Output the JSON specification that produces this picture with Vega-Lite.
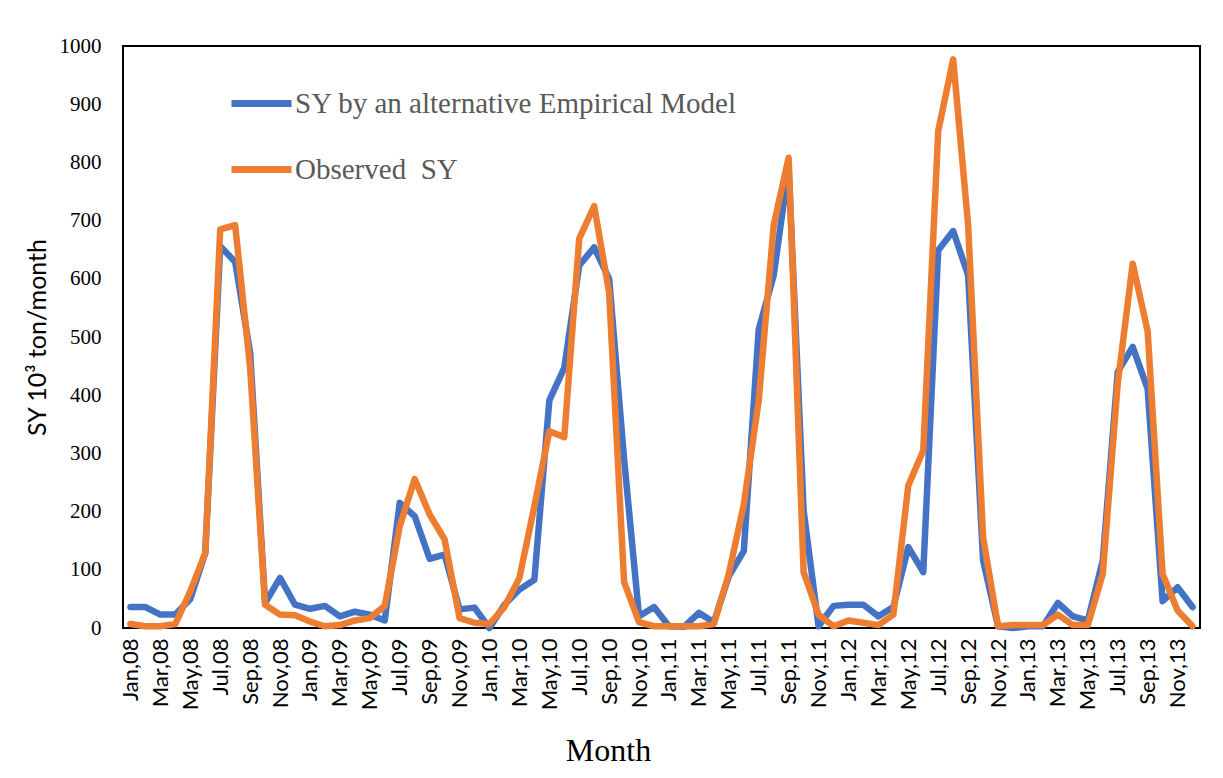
{
  "$schema": "https://vega.github.io/schema/vega-lite/v6.json",
  "width": 1077,
  "height": 582,
  "autosize": "none",
  "padding": {"left": 123, "top": 46, "right": 23, "bottom": 150},
  "background": "white",
  "config": {
    "view": {"stroke": "black", "strokeWidth": 2}
  },
  "data": {
    "values": [
      {"month": "Jan,08", "model": 36, "observed": 7},
      {"month": "Feb,08", "model": 36, "observed": 3},
      {"month": "Mar,08", "model": 23, "observed": 3},
      {"month": "Apr,08", "model": 23, "observed": 7},
      {"month": "May,08", "model": 50, "observed": 63},
      {"month": "Jun,08", "model": 129, "observed": 129},
      {"month": "Jul,08", "model": 656, "observed": 685},
      {"month": "Aug,08", "model": 629, "observed": 692},
      {"month": "Sep,08", "model": 473, "observed": 447},
      {"month": "Oct,08", "model": 43, "observed": 40},
      {"month": "Nov,08", "model": 86, "observed": 23},
      {"month": "Dec,08", "model": 40, "observed": 22},
      {"month": "Jan,09", "model": 33, "observed": 11},
      {"month": "Feb,09", "model": 38, "observed": 3},
      {"month": "Mar,09", "model": 20, "observed": 5},
      {"month": "Apr,09", "model": 28, "observed": 13},
      {"month": "May,09", "model": 23, "observed": 17},
      {"month": "Jun,09", "model": 13, "observed": 38},
      {"month": "Jul,09", "model": 215, "observed": 175},
      {"month": "Aug,09", "model": 192, "observed": 256},
      {"month": "Sep,09", "model": 119, "observed": 195},
      {"month": "Oct,09", "model": 126, "observed": 152},
      {"month": "Nov,09", "model": 32, "observed": 17},
      {"month": "Dec,09", "model": 35, "observed": 9},
      {"month": "Jan,10", "model": 0, "observed": 7},
      {"month": "Feb,10", "model": 40, "observed": 36},
      {"month": "Mar,10", "model": 66, "observed": 86},
      {"month": "Apr,10", "model": 83, "observed": 209},
      {"month": "May,10", "model": 391, "observed": 338},
      {"month": "Jun,10", "model": 447, "observed": 328},
      {"month": "Jul,10", "model": 623, "observed": 669},
      {"month": "Aug,10", "model": 654, "observed": 725},
      {"month": "Sep,10", "model": 600, "observed": 576},
      {"month": "Oct,10", "model": 290, "observed": 79},
      {"month": "Nov,10", "model": 20, "observed": 10},
      {"month": "Dec,10", "model": 36, "observed": 3},
      {"month": "Jan,11", "model": 3, "observed": 3},
      {"month": "Feb,11", "model": 2, "observed": 3},
      {"month": "Mar,11", "model": 26, "observed": 3},
      {"month": "Apr,11", "model": 10, "observed": 7},
      {"month": "May,11", "model": 89, "observed": 93},
      {"month": "Jun,11", "model": 132, "observed": 212},
      {"month": "Jul,11", "model": 513, "observed": 391},
      {"month": "Aug,11", "model": 606, "observed": 692},
      {"month": "Sep,11", "model": 791, "observed": 808},
      {"month": "Oct,11", "model": 202, "observed": 96},
      {"month": "Nov,11", "model": 3, "observed": 23},
      {"month": "Dec,11", "model": 38, "observed": 3},
      {"month": "Jan,12", "model": 40, "observed": 13},
      {"month": "Feb,12", "model": 40, "observed": 9},
      {"month": "Mar,12", "model": 20, "observed": 5},
      {"month": "Apr,12", "model": 36, "observed": 23},
      {"month": "May,12", "model": 139, "observed": 245},
      {"month": "Jun,12", "model": 96, "observed": 305},
      {"month": "Jul,12", "model": 649, "observed": 854},
      {"month": "Aug,12", "model": 682, "observed": 977},
      {"month": "Sep,12", "model": 606, "observed": 692},
      {"month": "Oct,12", "model": 116, "observed": 156},
      {"month": "Nov,12", "model": 3, "observed": 3},
      {"month": "Dec,12", "model": 0, "observed": 5},
      {"month": "Jan,13", "model": 3, "observed": 5},
      {"month": "Feb,13", "model": 3, "observed": 5},
      {"month": "Mar,13", "model": 43, "observed": 23},
      {"month": "Apr,13", "model": 20, "observed": 5},
      {"month": "May,13", "model": 13, "observed": 5},
      {"month": "Jun,13", "model": 116, "observed": 93},
      {"month": "Jul,13", "model": 440, "observed": 420},
      {"month": "Aug,13", "model": 483, "observed": 626},
      {"month": "Sep,13", "model": 411, "observed": 510},
      {"month": "Oct,13", "model": 46, "observed": 93},
      {"month": "Nov,13", "model": 70, "observed": 30},
      {"month": "Dec,13", "model": 36, "observed": 3}
    ]
  },
  "transform": [
    {"fold": ["model", "observed"], "as": ["series", "value"]}
  ],
  "mark": {"type": "line", "strokeWidth": 6.5, "strokeCap": "round", "strokeJoin": "round"},
  "encoding": {
    "x": {
      "field": "month",
      "type": "ordinal",
      "sort": null,
      "scale": {"type": "point", "padding": 0.5},
      "axis": {
        "title": "Month",
        "titleFont": "Liberation Serif",
        "titleFontSize": 32,
        "titleFontWeight": "normal",
        "titleColor": "black",
        "titleX": 485,
        "titleY": 132,
        "titleBaseline": "alphabetic",
        "labelAngle": 270,
        "labelFont": "Lato",
        "labelFontSize": 22,
        "labelColor": "black",
        "labelPadding": 10,
        "ticks": false,
        "domain": false,
        "grid": false,
        "values": ["Jan,08","Mar,08","May,08","Jul,08","Sep,08","Nov,08","Jan,09","Mar,09","May,09","Jul,09","Sep,09","Nov,09","Jan,10","Mar,10","May,10","Jul,10","Sep,10","Nov,10","Jan,11","Mar,11","May,11","Jul,11","Sep,11","Nov,11","Jan,12","Mar,12","May,12","Jul,12","Sep,12","Nov,12","Jan,13","Mar,13","May,13","Jul,13","Sep,13","Nov,13"]
      }
    },
    "y": {
      "field": "value",
      "type": "quantitative",
      "scale": {"domain": [0, 1000], "nice": false},
      "axis": {
        "title": "SY 10³ ton/month",
        "titleFont": "Lato",
        "titleFontSize": 25,
        "titleFontWeight": "normal",
        "titleColor": "black",
        "titlePadding": 9,
        "values": [0, 100, 200, 300, 400, 500, 600, 700, 800, 900, 1000],
        "format": "d",
        "labelFont": "Liberation Serif",
        "labelFontSize": 21,
        "labelColor": "black",
        "labelPadding": 22,
        "ticks": false,
        "domain": false,
        "grid": false
      }
    },
    "color": {
      "field": "series",
      "type": "nominal",
      "scale": {"domain": ["model", "observed"], "range": ["#4472C4", "#ED7D31"]},
      "legend": {
        "title": null,
        "orient": "none",
        "legendX": 105,
        "legendY": 24,
        "symbolType": "stroke",
        "symbolSize": 3600,
        "symbolStrokeWidth": 7,
        "labelFont": "Liberation Serif",
        "labelFontSize": 29,
        "labelColor": "#595959",
        "labelOffset": 0,
        "labelLimit": 700,
        "rowPadding": 17,
        "labelExpr": "datum.label == 'model' ? 'SY by an alternative Empirical Model' : 'Observed\u00a0\u00a0SY'"
      }
    }
  }
}
